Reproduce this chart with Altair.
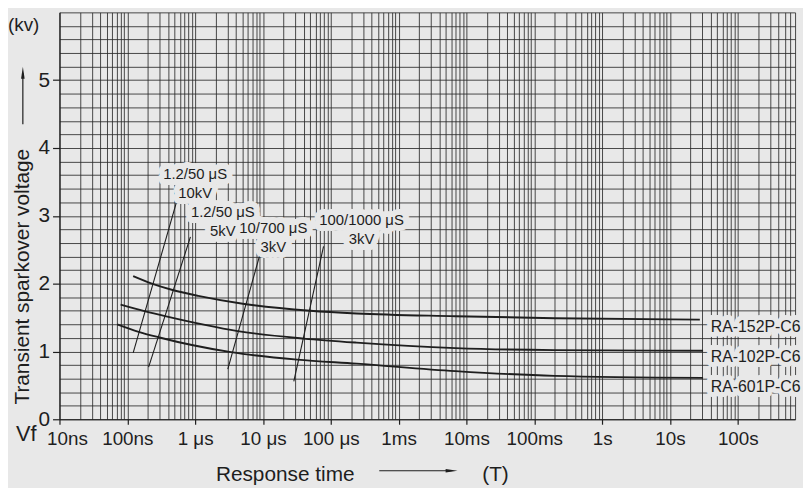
import altair as alt
import pandas as pd

BG = "#e8e8e8"
INK = "#1e1e1e"
FONT = "Liberation Sans"

# ---------------- data (time in seconds, voltage in kV) ----------------
SERIES = ["RA-152P-C6", "RA-102P-C6", "RA-601P-C6"]
T_RA152 = [1.22e-7, 2.30e-7, 4.51e-7, 1.11e-6, 5.32e-6, 4.99e-5, 2.40e-4, 6.9e-3, 0.199, 27.6]
V_RA152 = [2.11, 2.00, 1.91, 1.82, 1.70, 1.60, 1.56, 1.52, 1.49, 1.47]
T_RA102 = [7.96e-8, 1.85e-7, 3.61e-7, 4.25e-6, 3.99e-5, 2.40e-4, 6.9e-3, 0.199, 30.8]
V_RA102 = [1.69, 1.59, 1.52, 1.30, 1.19, 1.13, 1.05, 1.02, 1.01]
T_RA601 = [7.10e-8, 1.47e-7, 2.88e-7, 3.39e-6, 3.19e-5, 2.40e-4, 6.9e-3, 0.199, 30.8]
V_RA601 = [1.40, 1.29, 1.21, 0.99, 0.88, 0.82, 0.71, 0.64, 0.61]
SERIES_LABEL_T = [40, 40, 40]
SERIES_LABEL_V = [1.36, 0.92, 0.48]

IMPULSE_WAVE = ["1.2/50 μS", "1.2/50 μS", "10/700 μS", "100/1000 μS"]
IMPULSE_KV = ["10kV", "5kV", "3kV", "3kV"]
IMPULSE_T_START = [1.22e-7, 2.06e-7, 3.03e-6, 2.85e-5]
IMPULSE_V_START = [0.98, 0.77, 0.74, 0.56]
IMPULSE_T_END = [5.78e-7, 8.53e-7, 9.5e-6, 7.82e-5]
IMPULSE_V_END = [3.33, 2.69, 2.51, 2.55]
IMPULSE_LABEL_T = [1.0e-6, 2.56e-6, 1.42e-5, 2.84e-4]
IMPULSE_LABEL_V = [3.62, 3.05, 2.82, 2.94]

X_TICK_LABELS = ["10ns", "100ns", "1 μs", "10 μs", "100 μs", "1ms",
                 "10ms", "100ms", "1s", "10s", "100s"]
X_FIRST_DECADE = -8
Y_TICK_LABELS = [0, 1, 2, 3, 4, 5]
X_DOMAIN = [1e-8, 700]
Y_DOMAIN = [0, 6]
Y_GRID_STEP = 0.2

# ---------------- tables ----------------
curves = pd.DataFrame(
    [
        {"series": name, "t": t, "v": v}
        for name, ts, vs in zip(SERIES, [T_RA152, T_RA102, T_RA601], [V_RA152, V_RA102, V_RA601])
        for t, v in zip(ts, vs)
    ]
)
series_labels = pd.DataFrame({"label": SERIES, "t": SERIES_LABEL_T, "v": SERIES_LABEL_V})
impulses = pd.DataFrame(
    {
        "t": IMPULSE_T_START,
        "v": IMPULSE_V_START,
        "t2": IMPULSE_T_END,
        "v2": IMPULSE_V_END,
    }
)
impulse_labels = pd.DataFrame(
    {
        "label": [w + "\n" + k for w, k in zip(IMPULSE_WAVE, IMPULSE_KV)],
        "t": IMPULSE_LABEL_T,
        "v": IMPULSE_LABEL_V,
    }
)

# ---------------- axes ----------------
x_grid_vals = [
    float(f"{m}e{k}")
    for k in range(X_FIRST_DECADE, X_FIRST_DECADE + len(X_TICK_LABELS))
    for m in range(1, 10)
    if float(f"{m}e{k}") <= X_DOMAIN[1]
]
dec = "round(log(datum.value)/LN10)"
is_dec = f"abs(log(datum.value)/LN10 - {dec}) < 0.001"
lab_arr = "[" + ",".join(f"'{s}'" for s in X_TICK_LABELS) + "]"
x_label_expr = f"({is_dec}) ? {lab_arr}[{dec} - ({X_FIRST_DECADE})] : ''"

y_grid_vals = [round(i * Y_GRID_STEP, 1) for i in range(int(round(Y_DOMAIN[1] / Y_GRID_STEP)) + 1)]
y_lab_arr = "[" + ",".join(str(v) for v in Y_TICK_LABELS) + "]"
y_is_lab = f"indexof({y_lab_arr}, datum.value) >= 0"
y_label_expr = f"({y_is_lab}) ? toString(datum.value) : ''"

x_scale = alt.Scale(type="log", domain=X_DOMAIN, nice=False)
y_scale = alt.Scale(domain=Y_DOMAIN, nice=False, zero=False)

x_axis = alt.Axis(
    values=x_grid_vals,
    labelExpr=x_label_expr,
    title=None,
    grid=True,
    labelOverlap=False,
    labelFlush=True,
    labelFlushOffset=13,
    labelFontSize=19,
    labelPadding=5,
    tickSize=5,
    tickColor={"condition": {"test": is_dec, "value": INK}, "value": "rgba(0,0,0,0)"},
)
y_axis = alt.Axis(
    values=y_grid_vals,
    labelExpr=y_label_expr,
    title=None,
    grid=True,
    labelOverlap=False,
    labelFontSize=21,
    labelPadding=3,
    tickSize=7,
    tickColor={"condition": {"test": y_is_lab, "value": INK}, "value": "rgba(0,0,0,0)"},
)


def X(field="t"):
    return alt.X(f"{field}:Q", scale=x_scale, axis=x_axis)


def Y(field="v"):
    return alt.Y(f"{field}:Q", scale=y_scale, axis=y_axis)


curve_layer = alt.Chart(curves).mark_line(
    color=INK, strokeWidth=1.9, interpolate="monotone"
).encode(x=X(), y=Y(), detail="series:N")

impulse_layer = alt.Chart(impulses).mark_rule(color=INK, strokeWidth=1.1).encode(
    x=X(), y=Y(), x2="t2:Q", y2="v2:Q"
)

impulse_halo = alt.Chart(impulse_labels).mark_text(
    lineBreak="\n", lineHeight=19, fontSize=15, font=FONT, color=BG,
    stroke=BG, strokeWidth=12, strokeJoin="round", align="center", baseline="middle"
).encode(x=X(), y=Y(), text="label:N")
impulse_text = alt.Chart(impulse_labels).mark_text(
    lineBreak="\n", lineHeight=19, fontSize=15, font=FONT, color=INK,
    align="center", baseline="middle"
).encode(x=X(), y=Y(), text="label:N")

series_halo = alt.Chart(series_labels).mark_text(
    fontSize=16, font=FONT, color=BG, stroke=BG, strokeWidth=10, strokeJoin="round",
    align="left", baseline="middle"
).encode(x=X(), y=Y(), text="label:N")
series_text = alt.Chart(series_labels).mark_text(
    fontSize=16, font=FONT, color=INK, align="left", baseline="middle"
).encode(x=X(), y=Y(), text="label:N")


def deco_text(txt, x, y, size, align="left", baseline="alphabetic", angle=0):
    kw = dict(fontSize=size, font=FONT, color=INK, align=align, baseline=baseline)
    if angle:
        kw["angle"] = angle
    return alt.Chart(pd.DataFrame({"s": [txt]})).mark_text(**kw).encode(
        x=alt.value(x), y=alt.value(y), text="s:N"
    )


one = pd.DataFrame({"k": [0]})
kv_text = deco_text("(kv)", -52, 19, 19)
vf_text = deco_text("Vf", -44, 433, 22)
y_title = deco_text("Transient sparkover voltage", -31, 267, 21, align="center", angle=270)
x_title = deco_text("Response time", 158, 473, 21)
t_text = deco_text("(T)", 427, 473, 21)

y_arrow_line = alt.Chart(one).mark_rule(color=INK, strokeWidth=1.2).encode(
    x=alt.value(-37), y=alt.value(61), y2=alt.value(113)
)
y_arrow_head = alt.Chart(one).mark_point(
    shape="M0,-1L0.3,1L-0.3,1Z", filled=True, size=144, color=INK, opacity=1
).encode(x=alt.value(-37), y=alt.value(61))
x_arrow_line = alt.Chart(one).mark_rule(color=INK, strokeWidth=1.2).encode(
    x=alt.value(323), x2=alt.value(396), y=alt.value(463)
)
x_arrow_head = alt.Chart(one).mark_point(
    shape="M1,0L-1,0.3L-1,-0.3Z", filled=True, size=144, color=INK, opacity=1
).encode(x=alt.value(396), y=alt.value(463))

chart = alt.layer(
    curve_layer,
    impulse_layer,
    impulse_halo,
    impulse_text,
    series_halo,
    series_text,
    kv_text,
    vf_text,
    y_title,
    x_title,
    t_text,
    y_arrow_line,
    y_arrow_head,
    x_arrow_line,
    x_arrow_head,
).properties(
    width=743,
    height=411,
    background=BG,
    padding={"left": 52, "top": 2, "right": 8, "bottom": 67},
    autosize=alt.AutoSizeParams(type="none"),
).configure_view(
    stroke=None, fill=BG
).configure_axis(
    gridColor="#2a2a2a",
    gridWidth=1,
    gridOpacity=0.85,
    domainColor=INK,
    domainWidth=1.2,
    labelColor=INK,
    labelFont=FONT,
    tickWidth=1.2,
)

chart.save("out.html", embed_options={"renderer": "svg", "actions": False})
